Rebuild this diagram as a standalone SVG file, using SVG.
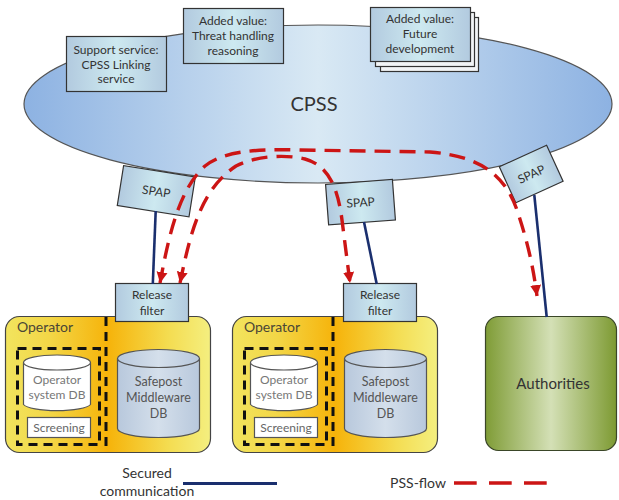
<svg xmlns="http://www.w3.org/2000/svg" width="619" height="500" viewBox="0 0 619 500">
  <defs>
    <style>
      text { font-family: Lato, "Open Sans", "Liberation Sans", sans-serif; fill: #333; text-anchor: middle; }
      .box { fill: url(#boxFill); stroke: #333; stroke-width: 1.2; }
      .back { fill: #f2f4f6; stroke: #333; stroke-width: 1.2; }
      .t12 { font-size: 12px; }
      .secure { stroke: #1a2f6e; stroke-width: 2.6; fill: none; }
      .flow { stroke: #cc1515; stroke-width: 3.4; fill: none; stroke-dasharray: 16 9; }
      .zone { fill: none; stroke: #111; stroke-width: 3; stroke-dasharray: 9 6; }
      .op { fill: url(#opFill); stroke: #444; stroke-width: 1.2; }
      .dbw { fill: #fff; stroke: #555; stroke-width: 1.2; }
      .dbb { fill: url(#dbFill); stroke: #555; stroke-width: 1.2; }
    </style>
    <linearGradient id="cloudFill" x1="0" y1="0" x2="1" y2="0">
      <stop offset="0" stop-color="#8db2e2"/>
      <stop offset="0.5" stop-color="#d9e9f4"/>
      <stop offset="1" stop-color="#8db2e2"/>
    </linearGradient>
    <linearGradient id="boxFill" x1="0" y1="0" x2="1" y2="0">
      <stop offset="0" stop-color="#b2cadf"/>
      <stop offset="0.5" stop-color="#cde9f0"/>
      <stop offset="1" stop-color="#b2cadf"/>
    </linearGradient>
    <linearGradient id="opFill" x1="0" y1="0" x2="1" y2="0">
      <stop offset="0" stop-color="#f2e45e"/>
      <stop offset="0.22" stop-color="#f3d646"/>
      <stop offset="0.5" stop-color="#f6b30a"/>
      <stop offset="0.8" stop-color="#f4dd52"/>
      <stop offset="1" stop-color="#f4ef80"/>
    </linearGradient>
    <linearGradient id="authFill" x1="0" y1="0" x2="1" y2="0">
      <stop offset="0" stop-color="#7f9c36"/>
      <stop offset="0.5" stop-color="#d4e0b6"/>
      <stop offset="1" stop-color="#7d9a32"/>
    </linearGradient>
    <linearGradient id="dbFill" x1="0" y1="0" x2="1" y2="0">
      <stop offset="0" stop-color="#b8c8dc"/>
      <stop offset="0.5" stop-color="#d4dfeb"/>
      <stop offset="1" stop-color="#b8c8dc"/>
    </linearGradient>
    <marker id="head" viewBox="0 0 10 10" refX="10" refY="5" markerWidth="11" markerHeight="12" markerUnits="userSpaceOnUse" orient="auto-start-reverse">
      <path d="M0,0 L10,5 L0,10 z" fill="#cc1515"/>
    </marker>
  </defs>

  <!-- CPSS cloud -->
  <g id="cpss">
    <ellipse cx="318" cy="104" rx="294" ry="79" fill="url(#cloudFill)" stroke="#555" stroke-width="1.2"/>
    <text x="314" y="111" style="font-size:20px">CPSS</text>
  </g>

  <!-- services on top of the CPSS -->
  <g id="support-service">
    <rect class="box" x="66.5" y="36.5" width="100" height="55"/>
    <text class="t12" x="116" y="54">Support service:</text>
    <text class="t12" x="116" y="68.5">CPSS Linking</text>
    <text class="t12" x="116" y="83">service</text>
  </g>
  <g id="threat-handling">
    <rect class="box" x="183.5" y="8.5" width="100" height="55"/>
    <text class="t12" x="233" y="25">Added value:</text>
    <text class="t12" x="233" y="40">Threat handling</text>
    <text class="t12" x="233" y="55">reasoning</text>
  </g>
  <g id="future-development">
    <rect class="back" x="380.5" y="17.5" width="98" height="54"/>
    <rect class="back" x="375.5" y="12.5" width="99" height="54"/>
    <rect class="box" x="370.5" y="7.5" width="100" height="54"/>
    <text class="t12" x="420" y="23">Added value:</text>
    <text class="t12" x="420" y="38">Future</text>
    <text class="t12" x="420" y="53">development</text>
  </g>

  <!-- access points -->
  <g id="spap-left" transform="translate(156.3,191.2) rotate(9)">
    <rect class="box" x="-36.3" y="-20.2" width="72.6" height="40.4"/>
    <text class="t12" x="0" y="4.5">SPAP</text>
  </g>
  <g id="spap-middle" transform="translate(360.5,202.2) rotate(-4.3)">
    <rect class="box" x="-33.5" y="-20.3" width="67" height="40.6"/>
    <text class="t12" x="0" y="4.5">SPAP</text>
  </g>
  <g id="spap-right" transform="translate(531.2,174) rotate(-24.6)">
    <rect class="box" x="-26" y="-19.8" width="52" height="39.6"/>
    <text class="t12" x="0" y="4.5">SPAP</text>
  </g>

  <!-- operator 1 -->
  <g id="operator-1">
    <rect class="op" x="5.5" y="316.5" width="205" height="136" rx="14"/>
    <text x="45" y="332" style="font-size:14px;fill:#4a4636">Operator</text>
    <line class="zone" x1="106" y1="317" x2="106" y2="452"/>
    <rect class="zone" x="17.5" y="348.5" width="82" height="96"/>
    <path class="dbw" d="M23.5,362.5 v42 a34,7.5 0 0 0 67,0 v-42"/>
    <ellipse class="dbw" cx="57" cy="362.5" rx="33.5" ry="7.5"/>
    <text class="t12" x="57" y="384" style="fill:#777">Operator</text>
    <text class="t12" x="57" y="399" style="fill:#777">system DB</text>
    <rect x="27.5" y="417.5" width="63" height="20" fill="#fff" stroke="#555" stroke-width="1.2"/>
    <text class="t12" x="59" y="432" style="fill:#666">Screening</text>
    <path class="dbb" d="M117.5,358.5 v70 a41,9 0 0 0 82,0 v-70"/>
    <ellipse class="dbb" cx="158.5" cy="358.5" rx="41" ry="9"/>
    <text x="158.5" y="386" style="font-size:12.5px;fill:#555">Safepost</text>
    <text x="158.5" y="402" style="font-size:12.5px;fill:#555">Middleware</text>
    <text x="158.5" y="418" style="font-size:12.5px;fill:#555">DB</text>
  </g>
  <g id="release-filter-1">
    <rect class="box" x="115.5" y="283.5" width="73" height="38"/>
    <text class="t12" x="152" y="299">Release</text>
    <text class="t12" x="152" y="315">filter</text>
  </g>

  <!-- operator 2 -->
  <g id="operator-2" transform="translate(227,0)">
    <rect class="op" x="5.5" y="316.5" width="205" height="136" rx="14"/>
    <text x="45" y="332" style="font-size:14px;fill:#4a4636">Operator</text>
    <line class="zone" x1="106" y1="317" x2="106" y2="452"/>
    <rect class="zone" x="17.5" y="348.5" width="82" height="96"/>
    <path class="dbw" d="M23.5,362.5 v42 a34,7.5 0 0 0 67,0 v-42"/>
    <ellipse class="dbw" cx="57" cy="362.5" rx="33.5" ry="7.5"/>
    <text class="t12" x="57" y="384" style="fill:#777">Operator</text>
    <text class="t12" x="57" y="399" style="fill:#777">system DB</text>
    <rect x="27.5" y="417.5" width="63" height="20" fill="#fff" stroke="#555" stroke-width="1.2"/>
    <text class="t12" x="59" y="432" style="fill:#666">Screening</text>
    <path class="dbb" d="M117.5,358.5 v70 a41,9 0 0 0 82,0 v-70"/>
    <ellipse class="dbb" cx="158.5" cy="358.5" rx="41" ry="9"/>
    <text x="158.5" y="386" style="font-size:12.5px;fill:#555">Safepost</text>
    <text x="158.5" y="402" style="font-size:12.5px;fill:#555">Middleware</text>
    <text x="158.5" y="418" style="font-size:12.5px;fill:#555">DB</text>
  </g>
  <g id="release-filter-2">
    <rect class="box" x="343.5" y="283.5" width="73" height="38"/>
    <text class="t12" x="380" y="299">Release</text>
    <text class="t12" x="380" y="315">filter</text>
  </g>

  <!-- authorities -->
  <g id="authorities">
    <rect x="485.5" y="316.5" width="131" height="134" rx="13" fill="url(#authFill)" stroke="#3a4628" stroke-width="1.2"/>
    <text x="553" y="389" style="font-size:15px">Authorities</text>
  </g>

  <!-- connectors -->
  <g id="connectors">
    <line class="secure" x1="155.7" y1="211" x2="152.8" y2="284"/>
    <line class="secure" x1="364" y1="222" x2="376.7" y2="284"/>
    <line class="secure" x1="534.3" y1="195" x2="546.7" y2="317"/>
    <path class="flow" marker-start="url(#head)" marker-end="url(#head)"
          d="M160,283 C168,240 178,190 205,166 C225,150 260,149 300,150 L430,152 C480,156 505,175 517,210 C527,240 533,265 537,296"/>
    <path class="flow" marker-start="url(#head)" marker-end="url(#head)"
          d="M180,283 C190,235 200,190 236,166 C255,156 285,154 305,159 C330,166 338,190 342,220 L350,283"/>
  </g>

  <!-- legend -->
  <g id="legend">
    <text x="147" y="478" style="font-size:14px">Secured</text>
    <text x="147" y="496" style="font-size:14px">communication</text>
    <line x1="183" y1="483.5" x2="277" y2="483.5" stroke="#1a2f6e" stroke-width="3"/>
    <text x="418" y="488" style="font-size:14px">PSS-flow</text>
    <line x1="454" y1="483" x2="547" y2="483" stroke="#cc1515" stroke-width="3.4" stroke-dasharray="22.7 12.3"/>
  </g>
</svg>
